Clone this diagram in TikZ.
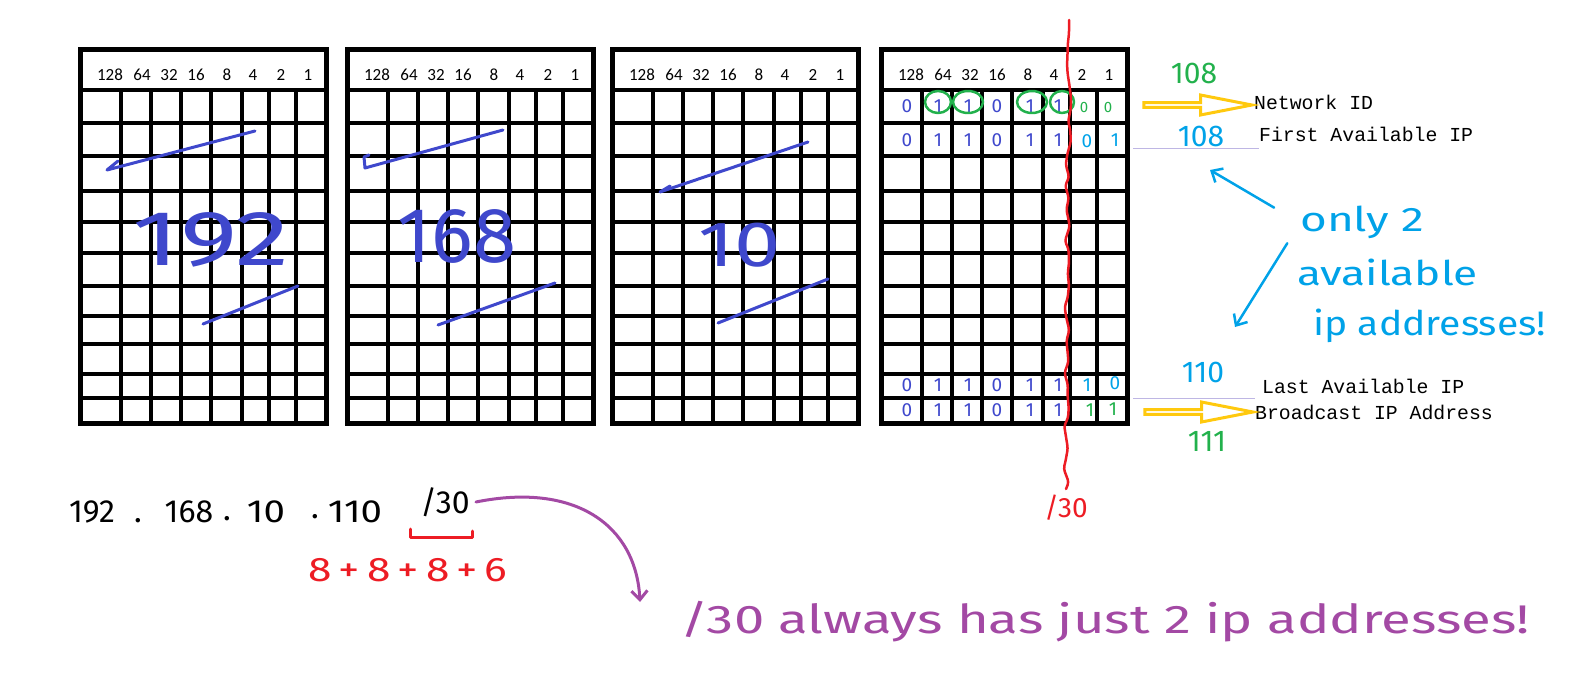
\documentclass[tikz,border=0pt]{standalone}
\usepackage{fontspec}
\usepackage{tikz}
\usetikzlibrary{arrows.meta,shapes.arrows,decorations.pathmorphing}
\setmainfont{Fira Sans}
\newfontfamily\weightfont{Carlito}
\newfontfamily\labelfont{Liberation Mono}
\newcommand{\pensize}[1]{\fontsize{#1}{#1}\selectfont}
\definecolor{penblue}{HTML}{3F48CC}
\definecolor{pengreen}{HTML}{22B14C}
\definecolor{pencyan}{HTML}{00A2E8}
\definecolor{penred}{HTML}{ED1C24}
\definecolor{penpurple}{HTML}{A349A4}
\definecolor{pengold}{HTML}{FFC90E}
\definecolor{guideline}{HTML}{BEB6E4}

\begin{document}
\begin{tikzpicture}[x=1pt,y=-1pt,
	gridline/.style={line width=4.5pt},
	bitweight/.style={font=\weightfont\pensize{17},inner sep=0pt},
	bitpen/.style={font=\pensize{19},inner sep=0pt},
	penline/.style={line width=3pt,line cap=round,line join=round},
	idlabel/.style={font=\labelfont\pensize{19.8},anchor=west,inner sep=0pt},
	hollowarrow/.style={single arrow,draw=pengold,line width=3pt,minimum height=108pt,
		minimum width=20pt,single arrow head extend=5pt,single arrow tip angle=22,inner sep=0pt},
	barb/.style={-{Straight Barb[length=9pt,width=16pt]}}]
	\useasboundingbox (0,0) rectangle (1580,687);
	\pgfmathsetseed{11}
	
	%byte tables
	\foreach \gx/\gn in {80/a,347/b,612/c,881/d}{
		\draw[gridline,line width=5pt] (\gx,50) rectangle ++(246,373);
		\draw[gridline] (\gx,90) -- ++(246,0);
		\foreach \cx in {41,71,101,131,162,189,216}
			\draw[gridline] (\gx+\cx,90) -- (\gx+\cx,423);
		\foreach \ry in {123,156,191,222,253,286,316,344,374,398}
			\draw[gridline] (\gx,\ry) -- (\gx+249,\ry);
		\foreach \lx/\lb in {30/128,62/64,89/32,116/16,147/8,173/4,201/2,228/1}
			\node[bitweight] (\gn-\lb) at (\gx+\lx,75) {\lb};
	}
	
	%octets written in
	\draw[penline,penblue] (255,131) -- (107,170) -- (118,161);
	\draw[penline,penblue] (298,286) -- (203,324);
	\node[font=\pensize{78},text=penblue,inner sep=0pt] (octa) at (211,240) {\scalebox{1.4}[1]{192}};
	\draw[penline,penblue] (503,130) -- (365,168) -- (364,157) -- (369,155);
	\draw[penline,penblue] (555,283) -- (438,325);
	\node[font=\pensize{78},text=penblue,inner sep=0pt] (octb) at (457,236) {168};
	\draw[penline,penblue] (808,142) -- (660,192) -- (670,186);
	\draw[penline,penblue] (828,279) -- (718,323);
	\node[font=\pensize{64},text=penblue,inner sep=0pt] (octc) at (740,245) {\scalebox{1.3}[1]{10}};
	
	%last octet bits
	\foreach \ry in {106,140,385,410}
		\foreach \b/\cx in {0/907,1/938,1/968,0/997,1/1030,1/1058}
			\node[bitpen,text=penblue] (bit-\ry-\cx) at (\cx,\ry) {\b};
	\node[bitpen,text=pengreen,font=\pensize{15}] (nid-2) at (1084,107) {0};
	\node[bitpen,text=pengreen,font=\pensize{15}] (nid-1) at (1108,107) {0};
	\node[bitpen,text=pencyan] (fip-2) at (1087,141) {0};
	\node[bitpen,text=pencyan] (fip-1) at (1115,140) {1};
	\node[bitpen,text=pencyan] (lip-2) at (1087,385) {1};
	\node[bitpen,text=pencyan] (lip-1) at (1115,383) {0};
	\node[bitpen,text=pengreen] (bip-2) at (1090,410) {1};
	\node[bitpen,text=pengreen] (bip-1) at (1113,409) {1};
	\foreach \cx/\rx in {938/13,968/15,1032/15,1062/12}
		\draw[penline,pengreen,line width=2.5pt] (\cx,102) ellipse [x radius=\rx pt,y radius=11pt];
	
	%prefix cut
	\coordinate (cut-top) at (1069,20);
	\node[font=\pensize{28},text=penred,inner sep=0pt] (cutmask) at (1066,508) {/30};
	\draw[penline,penred,line width=2.5pt,rounded corners=3pt,
		decorate,decoration={random steps,segment length=11pt,amplitude=3.2pt}]
		(cut-top) -- ([yshift=6pt]cutmask.north);
	
	%addresses
	\node[idlabel] (netid) at (1254,102) {Network ID};
	\node[idlabel] (firstip) at (1259,134) {First Available IP};
	\node[idlabel] (lastip) at (1262,386) {Last Available IP};
	\node[idlabel] (bcastip) at (1255,412) {Broadcast IP Address};
	\node[hollowarrow] (netarrow) at (1192,105) {};
	\node[hollowarrow] (bcastarrow) at (1193,412) {};
	\draw[guideline,line width=1pt] (1133,149) -- (firstip.west |- 0,149);
	\draw[guideline,line width=1pt] (1133,398) -- (bcastip.west |- 0,398);
	\node[font=\pensize{30},text=pengreen,inner sep=0pt] (netnum) at (1194,73) {108};
	\node[font=\pensize{30},text=pencyan,inner sep=0pt] (firstnum) at (1201,136) {108};
	\node[font=\pensize{30},text=pencyan,inner sep=0pt] (lastnum) at (1203,372) {110};
	\node[font=\pensize{30},text=pengreen,inner sep=0pt] (bcastnum) at (1207,441) {111};
	
	%only two hosts
	\node[font=\pensize{34},text=pencyan,anchor=base west,inner sep=0pt] (only) at (1300,232) {\scalebox{1.35}[1]{only 2}};
	\node[font=\pensize{34},text=pencyan,anchor=base west,inner sep=0pt] (avail) at (1297,285) {\scalebox{1.3}[1]{available}};
	\node[font=\pensize{34},text=pencyan,anchor=base west,inner sep=0pt] (ipaddr) at (1313,335) {\scalebox{1.15}[1]{ip addresses!}};
	\coordinate (first-tip) at (1210,170);
	\coordinate (last-tip) at (1235,327);
	\draw[penline,pencyan,line width=2.5pt,barb,shorten <=30pt] (only.west) -- (first-tip);
	\draw[penline,pencyan,line width=2.5pt,barb,shorten <=24pt] (only.west) -- (last-tip);
	
	%address with mask
	\node[font=\pensize{32},inner sep=0pt,anchor=base] (oct1) at (92,522) {192};
	\node[font=\pensize{32},inner sep=0pt,anchor=base] (dot1) at (138,522) {.};
	\node[font=\pensize{32},inner sep=0pt,anchor=base] (oct2) at (189,522) {168};
	\node[font=\pensize{32},inner sep=0pt,anchor=base] (dot2) at (227,520) {.};
	\node[font=\pensize{32},inner sep=0pt,anchor=base] (oct3) at (266,522) {\scalebox{1.2}[1]{10}};
	\node[font=\pensize{32},inner sep=0pt,anchor=base] (dot3) at (315,518) {.};
	\node[font=\pensize{32},inner sep=0pt,anchor=base] (oct4) at (355,522) {\scalebox{1.2}[1]{110}};
	\node[font=\pensize{32},inner sep=0pt] (ipmask) at (445,502) {/30};
	\draw[penline,penred] (410,529) -- (410,537) -- (472,537) -- (472,531);
	\node[font=\pensize{34},text=penred,inner sep=0pt] (masksum) at (408,570) {\scalebox{1.25}[1]{8\,+\,8\,+\,8\,+\,6}};
	\node[font=\pensize{40},text=penpurple,anchor=base west,inner sep=0pt] (note) at (680,633) {\scalebox{1.36}[1]{/30 always has just 2 ip addresses!}};
	\coordinate (note-tip) at (640,602);
	\draw[penline,penpurple,barb] ([xshift=6pt]ipmask.east) .. controls (575,482) and (636,525) .. (note-tip);
\end{tikzpicture}
\end{document}
